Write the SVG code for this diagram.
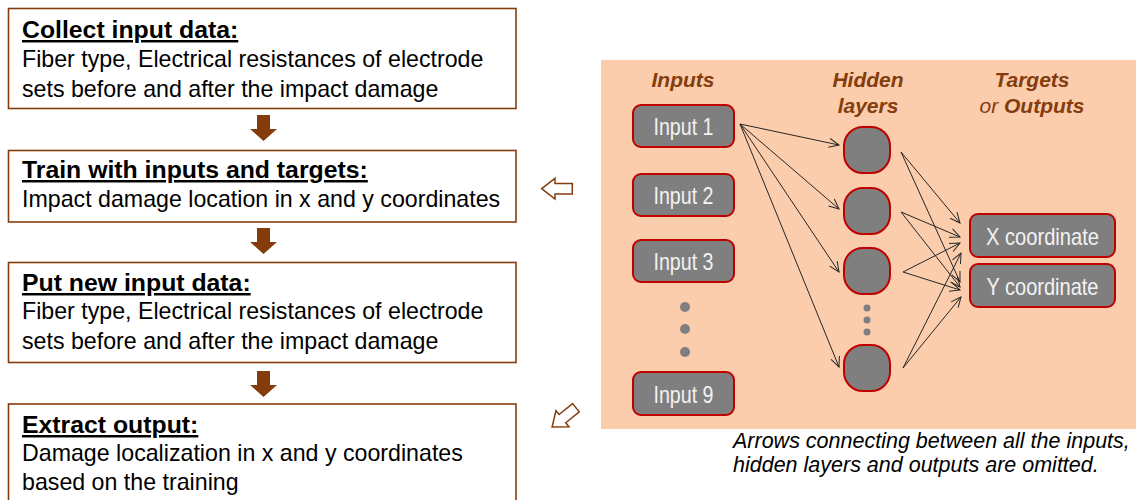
<svg xmlns="http://www.w3.org/2000/svg" width="1136" height="500" viewBox="0 0 1136 500">
<defs>
<style>
.box{fill:#fff;stroke:#843C0C;stroke-width:1.6}
.ttl{font-family:"Liberation Sans",Arial,sans-serif;font-weight:bold;font-size:24.8px;fill:#000;text-decoration:underline}
.bdy{font-family:"Liberation Sans",Arial,sans-serif;font-size:23.2px;fill:#000}
.down{fill:#843C0C}
.hollow{fill:#fff;stroke:#843C0C;stroke-width:1.5}
.lbl{font-family:"Liberation Sans",Arial,sans-serif;font-weight:bold;font-style:italic;font-size:21px;fill:#843C0C;text-anchor:middle}
.nd{fill:#7F7F7F;stroke:#C00000;stroke-width:2}
.ntx{font-family:"Liberation Sans Narrow","Liberation Sans",Arial,sans-serif;font-size:24px;fill:#F2F2F2;text-anchor:middle}
.dot{fill:#7F7F7F}
.cn{stroke:#262626;stroke-width:1;fill:none;marker-end:url(#ah)}
.cap{font-family:"Liberation Sans",Arial,sans-serif;font-style:italic;font-size:21.5px;fill:#000}
</style>
<marker id="ah" markerUnits="userSpaceOnUse" markerWidth="14" markerHeight="14" refX="11" refY="6" orient="auto">
<path d="M1,1.5 L11,6 L1,10.5" fill="none" stroke="#262626" stroke-width="1"/>
</marker>
<path id="harrow" d="M-15.3,0 L-2,-10.3 L-2,-5.3 L15.3,-5.3 L15.3,5.3 L-2,5.3 L-2,10.3 Z"/>
<path id="darrow" d="M-6.5,-14 L6.5,-14 L6.5,0 L13.5,0 L0,12 L-13.5,0 L-6.5,0 Z"/>
</defs>

<g id="step1">
<rect class="box" x="8.5" y="8.5" width="507.5" height="100"/>
<text class="ttl" x="22" y="38">Collect input data:</text>
<text class="bdy" x="22" y="67">Fiber type, Electrical resistances of electrode</text>
<text class="bdy" x="22" y="97">sets before and after the impact damage</text>
</g>
<g id="step2">
<rect class="box" x="8.5" y="150.5" width="507.5" height="71.5"/>
<text class="ttl" x="22" y="178">Train with inputs and targets:</text>
<text class="bdy" x="22" y="207">Impact damage location in x and y coordinates</text>
</g>
<g id="step3">
<rect class="box" x="8.5" y="262.5" width="507.5" height="100"/>
<text class="ttl" x="22" y="291">Put new input data:</text>
<text class="bdy" x="22" y="319">Fiber type, Electrical resistances of electrode</text>
<text class="bdy" x="22" y="349">sets before and after the impact damage</text>
</g>
<g id="step4">
<rect class="box" x="8.5" y="404" width="507.5" height="110"/>
<text class="ttl" x="22" y="433">Extract output:</text>
<text class="bdy" x="22" y="461">Damage localization in x and y coordinates</text>
<text class="bdy" x="22" y="490">based on the training</text>
</g>

<g id="panel">
<rect x="601" y="60" width="535" height="369" fill="#FBCDAD"/>
<text class="lbl" x="683" y="87">Inputs</text>
<text class="lbl" x="868" y="87">Hidden</text>
<text class="lbl" x="868" y="113">layers</text>
<text class="lbl" x="1032" y="87">Targets</text>
<text class="lbl" x="1032" y="113"><tspan font-weight="normal">or </tspan>Outputs</text>
</g>

<g id="input1"><rect class="nd" x="633" y="105" width="101" height="42" rx="8"/><text class="ntx" x="683.5" y="135" textLength="60" lengthAdjust="spacingAndGlyphs">Input 1</text></g>
<g id="input2"><rect class="nd" x="633" y="174" width="101" height="42" rx="8"/><text class="ntx" x="683.5" y="204" textLength="60" lengthAdjust="spacingAndGlyphs">Input 2</text></g>
<g id="input3"><rect class="nd" x="633" y="240" width="101" height="42" rx="8"/><text class="ntx" x="683.5" y="270" textLength="60" lengthAdjust="spacingAndGlyphs">Input 3</text></g>
<g id="inputdots"><circle class="dot" cx="685" cy="307" r="5"/><circle class="dot" cx="685" cy="329" r="5"/><circle class="dot" cx="685" cy="352" r="5"/></g>
<g id="input9"><rect class="nd" x="633" y="372" width="101" height="43" rx="8"/><text class="ntx" x="683.5" y="403" textLength="60" lengthAdjust="spacingAndGlyphs">Input 9</text></g>

<g id="hidden1"><rect class="nd" x="844" y="127" width="46" height="46" rx="19"/></g>
<g id="hidden2"><rect class="nd" x="844" y="188" width="46" height="46" rx="19"/></g>
<g id="hidden3"><rect class="nd" x="844" y="248" width="46" height="46" rx="19"/></g>
<g id="hiddendots"><circle class="dot" cx="867" cy="308" r="3.5"/><circle class="dot" cx="867" cy="320" r="3.5"/><circle class="dot" cx="867" cy="332" r="3.5"/></g>
<g id="hidden4"><rect class="nd" x="844" y="345" width="46" height="46" rx="19"/></g>

<g id="outX"><rect class="nd" x="970" y="214" width="145" height="43" rx="8"/><text class="ntx" x="1042.5" y="245" textLength="113" lengthAdjust="spacingAndGlyphs">X coordinate</text></g>
<g id="outY"><rect class="nd" x="970" y="264" width="145" height="43" rx="8"/><text class="ntx" x="1042.5" y="295" textLength="112" lengthAdjust="spacingAndGlyphs">Y coordinate</text></g>

<g id="connectors">
<use href="#darrow" class="down" x="263.5" y="129"/>
<use href="#darrow" class="down" x="263.5" y="242"/>
<use href="#darrow" class="down" x="263.5" y="385"/>
<use href="#harrow" class="hollow" transform="translate(557,188.7)"/>
<use href="#harrow" class="hollow" transform="translate(564,417.4) rotate(-39)"/>
<path class="cn" d="M740,124 L839,145"/>
<path class="cn" d="M740,124 L839,209"/>
<path class="cn" d="M740,124 L839,272"/>
<path class="cn" d="M740,124 L839,367"/>
<path class="cn" d="M901,152 L960,223"/>
<path class="cn" d="M901,152 L960,282"/>
<path class="cn" d="M901,212 L960,237"/>
<path class="cn" d="M901,212 L960,287"/>
<path class="cn" d="M903,272 L960,243"/>
<path class="cn" d="M903,272 L960,290"/>
<path class="cn" d="M903,368 L961,253"/>
<path class="cn" d="M903,368 L961,297"/>
</g>

<g id="caption">
<text class="cap" x="733" y="448">Arrows connecting between all the inputs,</text>
<text class="cap" x="733" y="472">hidden layers and outputs are omitted.</text>
</g>
</svg>
